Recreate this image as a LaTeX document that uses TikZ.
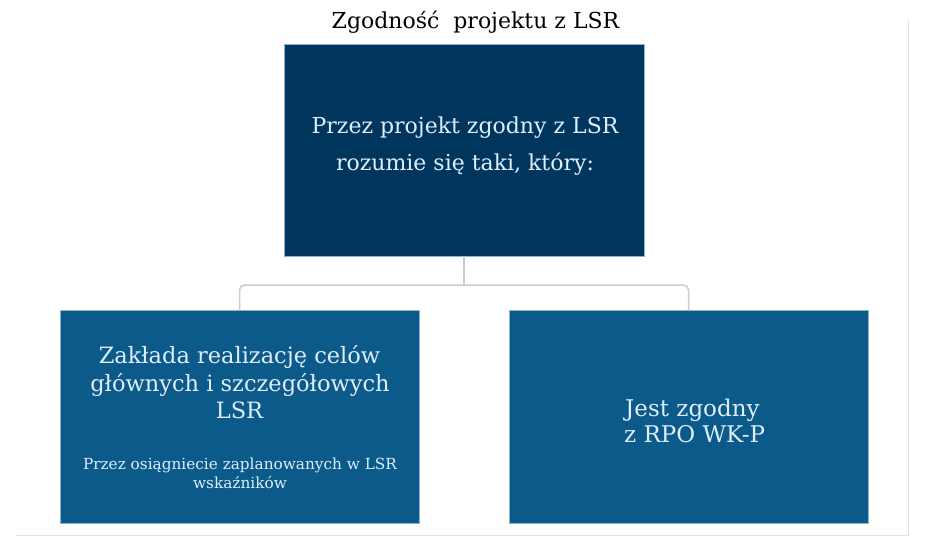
\documentclass[tikz,border=0pt]{standalone}
\usepackage{fontspec}
\setmainfont{DejaVu Serif}
\definecolor{navy}{RGB}{0,54,94}
\definecolor{midblue}{RGB}{12,90,138}
\definecolor{paletext}{RGB}{222,238,252}
\definecolor{conn}{RGB}{205,205,205}
\definecolor{frame}{RGB}{225,225,225}
\begin{document}
\begin{tikzpicture}[x=1pt,y=-1pt,
  boxshape/.style={rectangle,inner sep=0pt,outer sep=0pt,draw=paletext!60!midblue,line width=0.6pt},
  boxtext/.style={text=paletext,anchor=base,inner sep=0pt},
  toptext/.style={boxtext,font=\fontsize{22}{26}\selectfont},
  lefttext/.style={boxtext,font=\fontsize{22.5}{27}\selectfont},
  righttext/.style={boxtext,font=\fontsize{23}{27}\selectfont,anchor=base west},
  smalltext/.style={boxtext,font=\fontsize{15.3}{18}\selectfont},
  connector/.style={draw=conn,line width=1.5pt,rounded corners=5pt}]
\useasboundingbox (0,0) rectangle (950,547);
\fill[white] (0,0) rectangle (950,547);
% frame lines
\coordinate (ftop) at (908,20);
\coordinate (fcorner) at (908,535);
\coordinate (fleft) at (16,535);
\draw[frame,line width=1pt] (ftop) -- (fcorner) -- (fleft);
% title
\node[anchor=base,inner sep=0pt,font=\fontsize{22}{26}\selectfont] (title) at (475.5,28) {Zgodność\ \ projektu z LSR};
% boxes
\node[boxshape,fill=navy,minimum width=360pt,minimum height=212pt] (top) at (464,150) {};
\node[boxshape,fill=midblue,minimum width=359pt,minimum height=213pt] (left) at (239.5,416.5) {};
\node[boxshape,fill=midblue,minimum width=359pt,minimum height=213pt] (right) at (688.5,416.5) {};
% connectors
\coordinate (hub) at (464,285);
\draw[connector] (top.south) -- (hub);
\draw[connector] (left.north) |- (hub) -| (right.north);
% texts top
\node[toptext] (t1) at (465,133) {Przez projekt zgodny z LSR};
\node[toptext] (t2) at (465,170) {rozumie się taki, który:};
% texts left
\node[lefttext] (l1) at (239.5,363) {Zakłada realizację celów};
\node[lefttext] (l2) at (240,391) {głównych i szczegółowych};
\node[lefttext] (l3) at (239.5,418) {LSR};
\node[smalltext] (l4) at (240,469) {Przez osiągniecie zaplanowanych w LSR};
\node[smalltext] (l5) at (240,488) {wskaźników};
% texts right
\node[righttext] (r1) at (625,416) {Jest zgodny};
\node[righttext] (r2) at (624,442) {z RPO WK-P};
\end{tikzpicture}
\end{document}
